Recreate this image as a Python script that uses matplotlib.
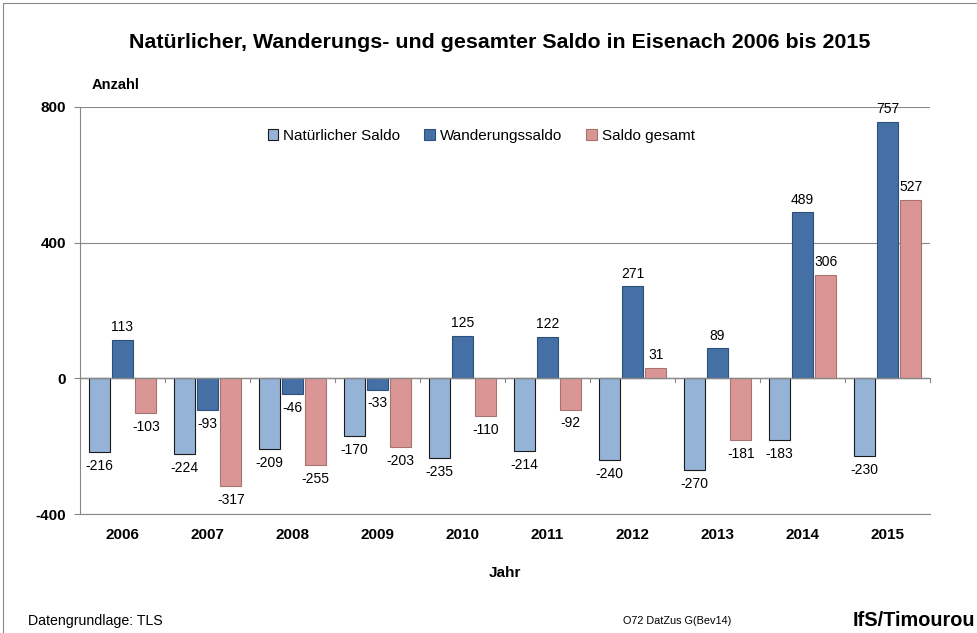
import numpy as np
import matplotlib
matplotlib.use('Agg')
import matplotlib.pyplot as plt
from matplotlib.patches import Rectangle

plt.rcParams['font.family'] = ['Liberation Sans', 'DejaVu Sans']

years = ['2006', '2007', '2008', '2009', '2010', '2011', '2012', '2013', '2014', '2015']
natuerlich = [-216, -224, -209, -170, -235, -214, -240, -270, -183, -230]
wanderung = [113, -93, -46, -33, 125, 122, 271, 89, 489, 757]
gesamt = [-103, -317, -255, -203, -110, -92, 31, -181, 306, 527]

series = [
    ('Natürlicher Saldo', natuerlich, '#95B3D7', '#1a1a1a'),
    ('Wanderungssaldo', wanderung, '#4470A6', '#2d4f7a'),
    ('Saldo gesamt', gesamt, '#D99694', '#a87270'),
]

fig = plt.figure(figsize=(9.78, 6.33), dpi=100)
ax = fig.add_axes([80 / 978, 1 - 514 / 633, 850 / 978, 407 / 633])

x = np.arange(len(years))
step = 0.274
width = 0.247
for i, (name, vals, col, edge) in enumerate(series):
    pos = x + (i - 1) * step
    ax.bar(pos, vals, width, color=col, edgecolor=edge, linewidth=0.8,
           label=name, zorder=3)
    for xp, v in zip(pos, vals):
        if v >= 0:
            ax.annotate(str(v), (xp, v), xytext=(0, 4), textcoords='offset points',
                        ha='center', va='bottom', fontsize=10)
        else:
            ax.annotate(str(v), (xp, v), xytext=(0, -5), textcoords='offset points',
                        ha='center', va='top', fontsize=10)

ax.set_xlim(-0.5, len(years) - 0.5)
ax.set_ylim(-400, 800)
ax.set_yticks([-400, 0, 400, 800])
ax.set_yticklabels(['-400', '0', '400', '800'], fontweight='bold', fontsize=11)
ax.set_xticks(x)
ax.set_xticklabels(years, fontweight='bold', fontsize=11)
ax.tick_params(axis='x', length=0, pad=10)
ax.tick_params(axis='y', length=4, color='#888888', pad=6)

ax.grid(axis='y', color='#888888', linewidth=0.8, zorder=0)
for s in ['top', 'right']:
    ax.spines[s].set_visible(False)
for s in ['left', 'bottom']:
    ax.spines[s].set_color('#888888')

# category axis at zero with separator ticks
ax.axhline(0, color='#888888', linewidth=1.0, zorder=4)
for b in np.arange(-0.5, len(years), 1.0):
    ax.plot([b, b], [0, -10], color='#888888', linewidth=0.8, zorder=4, clip_on=False)

ax.legend(loc='upper center', bbox_to_anchor=(0.472, 0.98), ncol=3, frameon=False,
          fontsize=11, handlelength=0.7, handleheight=0.7, handletextpad=0.3,
          columnspacing=1.6)

fig.text(0.511, 1 - 42 / 633, 'Natürlicher, Wanderungs- und gesamter Saldo in Eisenach 2006 bis 2015',
         ha='center', va='center', fontsize=15.4, fontweight='bold')
fig.text(92 / 978, 1 - 85 / 633, 'Anzahl', ha='left', va='center', fontsize=10.5, fontweight='bold')
fig.text(505 / 978, 1 - 573 / 633, 'Jahr', ha='center', va='center', fontsize=11, fontweight='bold')
fig.text(28 / 978, 1 - 621 / 633, 'Datengrundlage: TLS', ha='left', va='center', fontsize=10.2)
fig.text(677 / 978, 1 - 621 / 633, 'O72 DatZus G(Bev14)', ha='center', va='center', fontsize=7.8)
fig.text(853 / 978, 1 - 621 / 633, 'IfS/Timourou', ha='left', va='center', fontsize=14.3,
         fontweight='bold')

fig.patches.append(Rectangle((3 / 978, -0.01), 1.0, 1 - 3 / 633 + 0.01, transform=fig.transFigure,
                             fill=False, edgecolor='#888888', linewidth=0.8))

fig.savefig('out.png', dpi=100)
